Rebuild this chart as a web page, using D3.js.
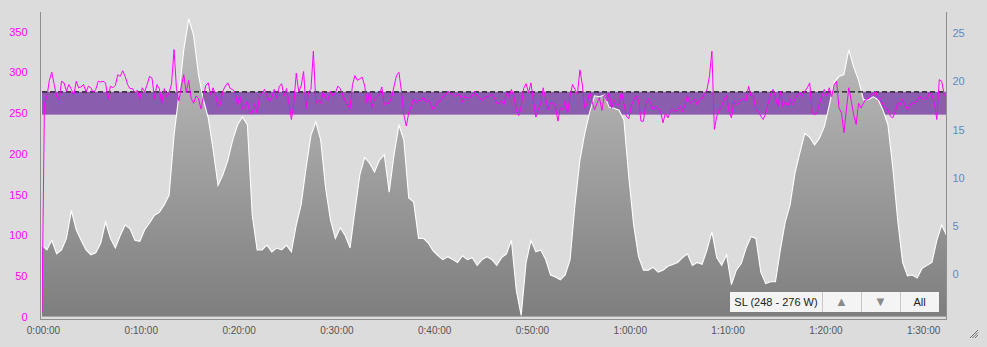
<!DOCTYPE html>
<html>
<head>
<meta charset="utf-8">
<script src="https://cdn.jsdelivr.net/npm/d3@7"></script>
<style>
  html, body { margin: 0; padding: 0; background: #dddcdc; }
  svg { display: block; font-family: "Liberation Sans", Arial, Helvetica, sans-serif; }
</style>
</head>
<body>
<div id="chart"></div>
<script>
// power in watts, one reading every 15 s (left axis)
var powerStep = 15;
var power = [
  5, 262, 270, 290, 300, 285, 270, 266, 289, 287,
  277, 285, 279, 272, 289, 281, 282, 285, 276, 283,
  281, 275, 279, 289, 288, 289, 287, 267, 283, 281,
  284, 297, 295, 302, 295, 285, 280, 280, 275, 278,
  267, 281, 276, 285, 295, 293, 268, 285, 280, 262,
  280, 270, 275, 286, 328, 280, 265, 283, 297, 275,
  290, 268, 262, 271, 268, 255, 270, 284, 287, 272,
  281, 272, 258, 261, 277, 283, 287, 280, 279, 275,
  260, 270, 255, 258, 265, 250, 250, 262, 250, 271,
  274, 279, 272, 264, 269, 279, 268, 282, 286, 271,
  280, 262, 242, 262, 299, 276, 283, 301, 255, 276,
  279, 326, 262, 266, 262, 276, 268, 266, 277, 271,
  275, 283, 280, 272, 265, 260, 255, 285, 296, 290,
  292, 294, 283, 262, 275, 257, 267, 270, 273, 282,
  260, 262, 262, 269, 283, 296, 300, 277, 248, 234,
  250, 258, 267, 262, 266, 265, 270, 263, 266, 262,
  254, 258, 265, 265, 271, 271, 277, 274, 273, 270,
  273, 272, 263, 271, 268, 269, 271, 277, 271, 269,
  265, 269, 270, 271, 273, 269, 262, 262, 265, 260,
  275, 270, 279, 270, 254, 247, 258, 280, 286, 275,
  287, 265, 245, 254, 262, 281, 267, 254, 262, 262,
  258, 240, 256, 254, 265, 250, 271, 285, 279, 273,
  303, 285, 256, 262, 276, 264, 254, 262, 269, 253,
  272, 265, 274, 256, 266, 260, 260, 276, 262, 246,
  243, 258, 266, 271, 265, 240, 240, 262, 267, 262,
  254, 258, 256, 252, 238, 250, 244, 252, 254, 252,
  254, 258, 252, 260, 271, 262, 264, 267, 260, 267,
  268, 273, 279, 295, 326, 230, 246, 254, 258, 267,
  272, 252, 244, 265, 260, 262, 267, 267, 265, 283,
  271, 271, 254, 252, 246, 242, 250, 262, 273, 279,
  270, 258, 277, 258, 264, 258, 267, 260, 268, 272,
  275, 270, 277, 281, 287, 250, 248, 250, 262, 271,
  279, 271, 281, 270, 285, 289, 256, 250, 226, 254,
  281, 265, 248, 236, 262, 256, 262, 267, 267, 273,
  273, 277, 267, 267, 260, 256, 254, 246, 244, 252,
  262, 260, 267, 260, 254, 260, 262, 262, 265, 271,
  267, 269, 267, 275, 272, 262, 242, 291, 289, 273,
  270
];

// grey profile, one reading every 30 s (right axis)
var profileStep = 30;
var profile = [
  3.0, 2.5, 3.5, 2.1, 2.5, 3.7, 6.6, 4.6, 3.5, 2.5,
  2.0, 2.2, 3.2, 5.4, 3.7, 2.7, 4.0, 5.1, 4.7, 3.5,
  3.4, 4.6, 5.3, 6.1, 6.4, 7.2, 8.2, 14.4, 18.6, 23.3,
  26.5, 24.8, 20.7, 18.1, 16.2, 12.9, 9.2, 10.3, 11.8, 13.9,
  15.5, 16.3, 15.5, 6.1, 2.5, 2.5, 3.0, 2.3, 2.7, 2.5,
  3.0, 2.3, 5.1, 7.2, 11.0, 14.4, 15.8, 13.9, 8.9, 5.6,
  3.7, 4.8, 4.0, 2.7, 6.6, 10.3, 12.1, 11.5, 10.6, 11.8,
  12.4, 8.5, 12.4, 15.5, 13.9, 7.9, 7.5, 3.7, 3.7, 3.2,
  2.4, 1.9, 1.5, 1.8, 1.5, 1.2, 1.9, 1.5, 1.7, 0.9,
  1.5, 1.8, 1.5, 0.9, 1.7, 2.1, 3.5, -1.7, -4.3, 1.2,
  3.5, 2.3, 2.5, 1.5, -0.1, -0.3, -0.6, -0.1, 1.5, 7.2,
  11.8, 14.6, 16.8, 18.5, 18.4, 18.6, 17.3, 17.2, 17.0, 16.0,
  10.1, 5.1, 1.8, 0.4, 0.4, 0.7, 0.2, 0.4, 0.8, 1.0,
  1.2, 1.7, 2.1, 0.9, 1.2, 1.0, 2.5, 4.4, 1.7, 0.9,
  2.0, -1.1, 0.4, 1.1, 2.7, 3.9, 3.7, 0.2, -1.0, -0.8,
  -0.8, 2.5, 5.4, 7.2, 10.5, 12.6, 14.6, 14.2, 13.4, 14.1,
  15.3, 17.5, 19.9, 20.5, 20.7, 23.3, 21.5, 20.1, 18.1, 18.1,
  18.4, 18.1, 17.0, 15.5, 11.0, 5.6, 1.2, -0.2, -0.1, -0.4,
  0.6, 0.9, 1.2, 3.5, 5.1, 4.0
];

// target zone
var zoneName = "SL";
var zoneLow = 248, zoneHigh = 276;

var powerTicks = [0, 50, 100, 150, 200, 250, 300, 350];
var rightTicks = [0, 5, 10, 15, 20, 25];
var timeTicks = [0, 600, 1200, 1800, 2400, 3000, 3600, 4200, 4800, 5400];
var buttonLabels = [zoneName + " (" + zoneLow + " - " + zoneHigh + " W)", "\u25B2", "\u25BC", "All"];

var width = 987, height = 347;
var plot = {left: 42, right: 946.6, top: 12, bottom: 316.7};

var svg = d3.select("#chart")
  .append("svg")
    .attr("width", width)
    .attr("height", height);

var x = d3.scaleLinear().domain([0, 5550]).range([plot.left, plot.right]);
var yPow = d3.scaleLinear().domain([0, 374]).range([plot.bottom, plot.top]);
var yRight = d3.scaleLinear().domain([-4.43, 27.2]).range([plot.bottom, plot.top]);

function fmtTime(s) {
  var h = Math.floor(s / 3600), m = Math.floor((s % 3600) / 60), sec = s % 60;
  return h + ":" + d3.format("02")(m) + ":" + d3.format("02")(sec);
}

var defs = svg.append("defs");
defs.append("clipPath").attr("id", "clip")
  .append("rect")
    .attr("x", plot.left).attr("y", plot.top)
    .attr("width", 946 - plot.left).attr("height", plot.bottom - plot.top);

var grad = defs.append("linearGradient")
    .attr("id", "greyfill")
    .attr("gradientUnits", "userSpaceOnUse")
    .attr("x1", 0).attr("x2", 0)
    .attr("y1", plot.top).attr("y2", plot.bottom);
grad.append("stop").attr("offset", 0).attr("stop-color", "#c2c2c2");
grad.append("stop").attr("offset", 1).attr("stop-color", "#7e7e7e");

var g = svg.append("g").attr("clip-path", "url(#clip)");

// zone band
g.append("rect")
  .attr("x", plot.left)
  .attr("y", yPow(zoneHigh))
  .attr("width", plot.right - plot.left)
  .attr("height", yPow(zoneLow) - yPow(zoneHigh))
  .attr("fill", "#8b5dae");

// grey profile
var area = d3.area()
  .x(function(d, i) { return x(i * profileStep); })
  .y0(plot.bottom)
  .y1(function(d) { return yRight(d); });

g.append("path")
  .datum(profile)
  .attr("d", area)
  .attr("fill", "url(#greyfill)");

g.append("path")
  .datum(profile)
  .attr("d", d3.line()
    .x(function(d, i) { return x(i * profileStep); })
    .y(function(d) { return yRight(d); }))
  .attr("fill", "none")
  .attr("stroke", "#ffffff")
  .attr("stroke-width", 1.1);

// zone upper limit
g.append("line")
  .attr("x1", plot.left).attr("x2", plot.right)
  .attr("y1", yPow(zoneHigh)).attr("y2", yPow(zoneHigh))
  .attr("stroke", "#111")
  .attr("stroke-width", 1.4)
  .attr("stroke-dasharray", "5,3");

// power line
g.append("path")
  .datum(power)
  .attr("d", d3.line()
    .x(function(d, i) { return x(i * powerStep); })
    .y(function(d) { return yPow(d); }))
  .attr("fill", "none")
  .attr("stroke", "#ff00ff")
  .attr("stroke-width", 1);

// frame
var frame = svg.append("g").attr("stroke", "#8e8e8e").attr("stroke-width", 1).attr("fill", "none");
frame.append("line").attr("x1", 40.5).attr("x2", 40.5).attr("y1", 12).attr("y2", 319.5);
frame.append("line").attr("x1", 946.5).attr("x2", 946.5).attr("y1", 12).attr("y2", 319.5);
frame.append("line").attr("x1", 40).attr("x2", 947).attr("y1", 319.5).attr("y2", 319.5);

// axes
var leftAxis = svg.append("g")
  .attr("transform", "translate(40,0)")
  .call(d3.axisLeft(yPow).tickValues(powerTicks).tickSize(0).tickPadding(12.5));
leftAxis.selectAll("text").attr("fill", "#ff00ff").style("font-size", "11px");

var rightAxis = svg.append("g")
  .attr("transform", "translate(946,0)")
  .call(d3.axisRight(yRight).tickValues(rightTicks).tickSize(0).tickPadding(6.5));
rightAxis.selectAll("text").attr("fill", "#5b8bc2").style("font-size", "11px");

var xAxis = svg.append("g")
  .attr("transform", "translate(1,319)")
  .call(d3.axisBottom(x).tickValues(timeTicks).tickFormat(fmtTime).tickSize(0).tickPadding(8));
xAxis.selectAll("text").attr("fill", "#555").style("font-size", "10px");

svg.selectAll(".domain").remove();

// zone buttons
var btnX = [730, 822, 861, 900, 939];
var bar = svg.append("g");
bar.append("rect")
  .attr("x", btnX[0]).attr("y", 292)
  .attr("width", btnX[4] - btnX[0]).attr("height", 20)
  .attr("fill", "#f4f4f4");
for (var k = 1; k < 4; k++) {
  bar.append("line")
    .attr("x1", btnX[k] + 0.5).attr("x2", btnX[k] + 0.5)
    .attr("y1", 292).attr("y2", 312)
    .attr("stroke", "#c8c8c8");
}
bar.selectAll("text")
  .data(buttonLabels)
  .enter()
  .append("text")
    .attr("x", function(d, i) { return (btnX[i] + btnX[i + 1]) / 2; })
    .attr("y", 306)
    .attr("text-anchor", "middle")
    .attr("fill", function(d, i) { return (i == 1 || i == 2) ? "#8a8a8a" : "#222"; })
    .style("font-size", function(d, i) { return (i == 1 || i == 2) ? "13px" : "11px"; })
    .text(function(d) { return d; });

// resize grip
var grip = svg.append("g").attr("stroke", "#555").attr("stroke-width", 0.8);
[[970, 338, 978, 330], [972.5, 338, 978, 332.5], [975, 338, 978, 335]].forEach(function(l) {
  grip.append("line").attr("x1", l[0]).attr("y1", l[1]).attr("x2", l[2]).attr("y2", l[3]);
});
</script>
</body>
</html>
